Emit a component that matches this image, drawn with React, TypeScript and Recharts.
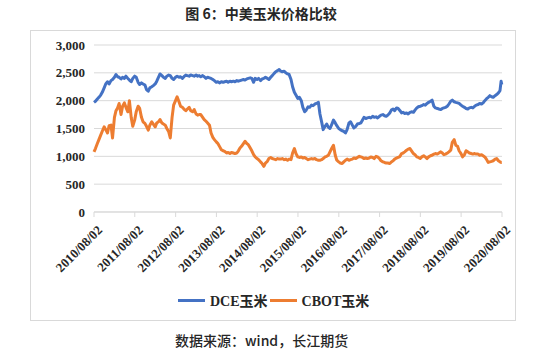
import { CartesianGrid, Line, LineChart, XAxis, YAxis } from "recharts";

// half-month sampling, values
const dates = [
  "2010-08-02", "2010-08-15", "2010-09-01", "2010-09-15", "2010-10-01", "2010-10-15", "2010-11-01", "2010-11-15", "2010-12-01", "2010-12-15",
  "2011-01-01", "2011-01-15", "2011-02-01", "2011-02-15", "2011-03-01", "2011-03-15", "2011-04-01", "2011-04-15", "2011-05-01", "2011-05-15", "2011-06-01", "2011-06-15",
  "2011-07-01", "2011-07-15", "2011-08-01", "2011-08-15", "2011-09-01", "2011-09-15", "2011-10-01", "2011-10-15", "2011-11-01", "2011-11-15", "2011-12-01", "2011-12-15",
  "2012-01-01", "2012-01-15", "2012-02-01", "2012-02-15", "2012-03-01", "2012-03-15", "2012-04-01", "2012-04-15", "2012-05-01", "2012-05-15", "2012-06-01", "2012-06-15",
  "2012-07-01", "2012-07-15", "2012-08-01", "2012-08-15", "2012-09-01", "2012-09-15", "2012-10-01", "2012-10-15", "2012-11-01", "2012-11-15", "2012-12-01", "2012-12-15",
  "2013-01-01", "2013-01-15", "2013-02-01", "2013-02-15", "2013-03-01", "2013-03-15", "2013-04-01", "2013-04-15", "2013-05-01", "2013-05-15", "2013-06-01", "2013-06-15",
  "2013-07-01", "2013-07-15", "2013-08-01", "2013-08-15", "2013-09-01", "2013-09-15", "2013-10-01", "2013-10-15", "2013-11-01", "2013-11-15", "2013-12-01", "2013-12-15",
  "2014-01-01", "2014-01-15", "2014-02-01", "2014-02-15", "2014-03-01", "2014-03-15", "2014-04-01", "2014-04-15", "2014-05-01", "2014-05-15", "2014-06-01", "2014-06-15",
  "2014-07-01", "2014-07-15", "2014-08-01", "2014-08-15", "2014-09-01", "2014-09-15", "2014-10-01", "2014-10-15", "2014-11-01", "2014-11-15", "2014-12-01", "2014-12-15",
  "2015-01-01", "2015-01-15", "2015-02-01", "2015-02-15", "2015-03-01", "2015-03-15", "2015-04-01", "2015-04-15", "2015-05-01", "2015-05-15", "2015-06-01", "2015-06-15",
  "2015-07-01", "2015-07-15", "2015-08-01", "2015-08-15", "2015-09-01", "2015-09-15", "2015-10-01", "2015-10-15", "2015-11-01", "2015-11-15", "2015-12-01", "2015-12-15",
  "2016-01-01", "2016-01-15", "2016-02-01", "2016-02-15", "2016-03-01", "2016-03-15", "2016-04-01", "2016-04-15", "2016-05-01", "2016-05-15", "2016-06-01", "2016-06-15",
  "2016-07-01", "2016-07-15", "2016-08-01", "2016-08-15", "2016-09-01", "2016-09-15", "2016-10-01", "2016-10-15", "2016-11-01", "2016-11-15", "2016-12-01", "2016-12-15",
  "2017-01-01", "2017-01-15", "2017-02-01", "2017-02-15", "2017-03-01", "2017-03-15", "2017-04-01", "2017-04-15", "2017-05-01", "2017-05-15", "2017-06-01", "2017-06-15",
  "2017-07-01", "2017-07-15", "2017-08-01", "2017-08-15", "2017-09-01", "2017-09-15", "2017-10-01", "2017-10-15", "2017-11-01", "2017-11-15", "2017-12-01", "2017-12-15",
  "2018-01-01", "2018-01-15", "2018-02-01", "2018-02-15", "2018-03-01", "2018-03-15", "2018-04-01", "2018-04-15", "2018-05-01", "2018-05-15", "2018-06-01", "2018-06-15",
  "2018-07-01", "2018-07-15", "2018-08-01", "2018-08-15", "2018-09-01", "2018-09-15", "2018-10-01", "2018-10-15", "2018-11-01", "2018-11-15", "2018-12-01", "2018-12-15",
  "2019-01-01", "2019-01-15", "2019-02-01", "2019-02-15", "2019-03-01", "2019-03-15", "2019-04-01", "2019-04-15", "2019-05-01", "2019-05-15", "2019-06-01", "2019-06-15",
  "2019-07-01", "2019-07-15", "2019-08-01", "2019-08-15", "2019-09-01", "2019-09-15", "2019-10-01", "2019-10-15", "2019-11-01", "2019-11-15", "2019-12-01", "2019-12-15",
  "2020-01-01", "2020-01-15", "2020-02-01", "2020-02-15", "2020-03-01", "2020-03-15", "2020-04-01", "2020-04-15", "2020-05-01", "2020-05-15", "2020-06-01", "2020-06-15",
  "2020-07-01", "2020-07-15", "2020-07-25", "2020-07-31",
];

const dce = [
  1970, 1990, 2030, 2060, 2100, 2150, 2230, 2300, 2340, 2300,
  2360, 2380, 2420, 2470, 2430, 2420, 2390, 2420, 2400, 2440, 2400, 2370, 2340, 2400, 2440, 2420, 2330, 2290, 2320, 2300, 2280, 2200, 2170, 2230,
  2250, 2270, 2300, 2350, 2420, 2480, 2450, 2420, 2400, 2440, 2460, 2450, 2400, 2380, 2420, 2440, 2420, 2430, 2400, 2430, 2460, 2450, 2440, 2460,
  2450, 2440, 2460, 2440, 2450, 2430, 2450, 2430, 2400, 2420, 2410, 2400, 2380, 2360, 2330, 2340, 2320, 2340, 2330, 2340, 2350, 2330, 2350, 2340,
  2350, 2340, 2360, 2350, 2360, 2370, 2380, 2370, 2390, 2400, 2410, 2400, 2330, 2400, 2380, 2400, 2360, 2390, 2400, 2420, 2400, 2380, 2420, 2450,
  2490, 2520, 2540, 2560, 2530, 2520, 2530, 2500, 2480, 2470, 2380, 2250, 2150, 2100, 2040, 2060, 2000, 1880, 1800, 1830, 1890, 1880, 1920, 1910,
  1940, 1950, 1970, 1760, 1620, 1480, 1540, 1580, 1520, 1500, 1580, 1650, 1600, 1550, 1500, 1480, 1460, 1450, 1420, 1480, 1600, 1620, 1560, 1510,
  1540, 1580, 1590, 1600, 1650, 1700, 1680, 1690, 1700, 1690, 1720, 1700, 1710, 1690, 1720, 1740, 1750, 1730, 1720, 1740, 1780, 1830, 1850, 1820,
  1870, 1860, 1820, 1780, 1790, 1770, 1780, 1760, 1790, 1800, 1790, 1830, 1870, 1890, 1900, 1910, 1930, 1920, 1950, 1970, 1990, 2010, 1900, 1870,
  1860, 1850, 1840, 1860, 1870, 1880, 1900, 1940, 1990, 2010, 1980, 1970, 1960, 1950, 1920, 1900, 1880, 1860, 1850, 1870, 1880, 1870, 1900, 1920,
  1930, 1950, 1940, 1960, 2000, 2030, 2060, 2090, 2070, 2060, 2090, 2110, 2140, 2180, 2350, 2290,
];

const cbot = [
  1080, 1140, 1230, 1300, 1380, 1450, 1530, 1480, 1420, 1550,
  1560, 1330, 1700, 1820, 1870, 1950, 1750, 1900, 1960, 1880, 1800, 2000, 1700, 1540, 1650, 1800, 1900, 1860, 1700, 1620, 1590, 1540, 1470, 1560,
  1620, 1580, 1530, 1600, 1620, 1660, 1600, 1580, 1560, 1500, 1440, 1330, 1700, 1920, 2000, 2070, 1980, 1900, 1880, 1850, 1820, 1850, 1880, 1820,
  1800, 1840, 1760, 1740, 1750, 1750, 1700, 1660, 1630, 1600, 1560, 1420, 1340, 1300, 1260, 1230, 1170, 1120, 1100, 1090, 1060, 1070, 1050, 1070,
  1060, 1050, 1060, 1100, 1150, 1180, 1230, 1270, 1230, 1210, 1150, 1100, 1030, 990, 960, 940, 900, 870, 820, 880, 910, 960, 980, 960,
  950, 940, 960, 950, 950, 960, 940, 950, 930, 950, 940, 1060, 1140, 1050, 990, 980, 990, 970, 980, 960, 940, 950, 960, 950,
  960, 940, 930, 930, 940, 960, 990, 1000, 1020, 1080, 1150, 1200, 1020, 930, 900, 880, 870, 900, 930, 950, 930, 940, 950, 970,
  960, 980, 1000, 990, 980, 960, 970, 960, 970, 990, 980, 960, 1000, 990, 960, 920, 900, 890, 880, 880, 870, 900, 920, 950,
  970, 980, 1000, 1050, 1060, 1080, 1110, 1130, 1140, 1100, 1050, 1030, 990, 980, 960, 990, 1010, 990, 960, 990, 1010, 1020, 1040, 1050,
  1040, 1060, 1080, 1060, 1030, 1040, 1060, 1080, 1110, 1250, 1300, 1200, 1180, 1100, 1050, 990, 1030, 1100, 1080, 1060, 1050, 1040, 1050, 1040,
  1040, 1020, 1030, 1010, 990, 950, 890, 900, 910, 920, 950, 960, 920, 900, 890, 890,
];

const tickDates = [
  "2010-08-02", "2011-08-02", "2012-08-02", "2013-08-02", "2014-08-02", "2015-08-02",
  "2016-08-02", "2017-08-02", "2018-08-02", "2019-08-02", "2020-08-02",
];
const yTicks = [0, 500, 1000, 1500, 2000, 2500, 3000];

const data = dates.map((d, i) => ({ t: Date.parse(d), dce: dce[i], cbot: cbot[i] }));
const xTicks = tickDates.map((d) => Date.parse(d));

const serif = '"Liberation Serif", "Times New Roman", serif';
const cjk = '"Noto Sans CJK SC", "Noto Sans", sans-serif';

function fmtDate(ts: number) {
  const d = new Date(ts);
  const mm = String(d.getUTCMonth() + 1).padStart(2, "0");
  const dd = String(d.getUTCDate()).padStart(2, "0");
  return `${d.getUTCFullYear()}/${mm}/${dd}`;
}

function DateTick(props: any) {
  const { x, y, payload } = props;
  const ax = x + 9;
  const ay = y + 12;
  return (
    <text
      x={ax}
      y={ay}
      transform={`rotate(-45 ${ax} ${ay})`}
      textAnchor="end"
      fontFamily={serif}
      fontWeight="bold"
      fontSize={13}
      fill="#262626"
    >
      {fmtDate(payload.value)}
    </text>
  );
}

function LegendItem(props: { color: string; latin: string }) {
  return (
    <div style={{ display: "flex", alignItems: "center" }}>
      <div style={{ width: 27, height: 3, background: props.color, marginRight: 5 }} />
      <span style={{ fontFamily: serif, fontWeight: "bold", fontSize: 14, color: "#262626" }}>
        {props.latin}
        <span style={{ fontFamily: cjk }}>玉米</span>
      </span>
    </div>
  );
}

export default function App() {
  return (
    <div style={{ position: "absolute", left: 0, top: 0, width: 550, height: 353, background: "#fff" }}>
      <div
        style={{
          position: "absolute", left: 0, top: 3, width: 522, textAlign: "center",
          fontFamily: cjk, fontWeight: "bold", fontSize: 14, color: "#262626",
        }}
      >
        图 6：中美玉米价格比较
      </div>
      <div
        style={{
          position: "absolute", left: 30, top: 30, width: 486, height: 291,
          border: "1px solid #d9d9d9", boxSizing: "border-box",
        }}
      />
      <div style={{ position: "absolute", left: 0, top: 0 }}>
        <LineChart width={550} height={353} data={data} margin={{ top: 45, right: 48, bottom: 71, left: 34 }}>
          <CartesianGrid vertical={false} stroke="#d9d9d9" />
          <XAxis
            dataKey="t"
            type="number"
            scale="time"
            domain={[xTicks[0], xTicks[xTicks.length - 1]]}
            ticks={xTicks}
            interval={0}
            height={70}
            tick={<DateTick />}
            tickSize={5}
            tickMargin={2}
            stroke="#d9d9d9"
          />
          <YAxis
            domain={[0, 3000]}
            ticks={yTicks}
            interval={0}
            width={60}
            axisLine={false}
            tickLine={false}
            tickSize={0}
            tickMargin={9}
            tickFormatter={(v: number) => v.toLocaleString("en-US")}
            tick={{ fontFamily: serif, fontWeight: "bold", fontSize: 13, fill: "#262626" }}
          />
          <Line type="linear" dataKey="dce" stroke="#4472C4" strokeWidth={3} strokeLinejoin="round" dot={false} isAnimationActive={false} />
          <Line type="linear" dataKey="cbot" stroke="#ED7D31" strokeWidth={3} strokeLinejoin="round" dot={false} isAnimationActive={false} />
        </LineChart>
      </div>
      <div style={{ position: "absolute", left: 178, top: 290, display: "flex", gap: 2 }}>
        <LegendItem color="#4472C4" latin="DCE" />
        <LegendItem color="#ED7D31" latin="CBOT" />
      </div>
      <div
        style={{
          position: "absolute", left: 175, top: 330, fontFamily: cjk, fontSize: 14,
          fontWeight: 500, color: "#262626",
        }}
      >
        数据来源：wind，长江期货
      </div>
    </div>
  );
}
